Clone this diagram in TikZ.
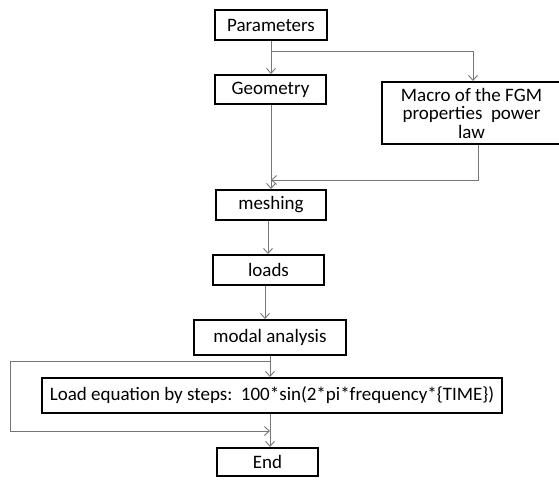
\documentclass[tikz,border=0pt]{standalone}
\usepackage{fontspec}
\setmainfont{Carlito}
\usetikzlibrary{arrows.meta,calc}
\definecolor{conn}{RGB}{118,118,118}
\begin{document}
\begin{tikzpicture}[x=1pt,y=-1pt,
  box/.style={draw=black,line width=2pt,inner sep=0pt,font=\fontsize{19}{18.5}\selectfont,align=center},
  arr/.style={draw=conn,line width=0.9pt,-{Straight Barb[length=5pt,width=9pt,line width=0.9pt]}},
  ln/.style={draw=conn,line width=0.9pt}]
\clip (0,0) rectangle (559,479);
\fill[white] (0,0) rectangle (559,479);
\node[box,minimum width=112pt,minimum height=30pt] (params) at (271,25) {Parameters};
\node[box,minimum width=111pt,minimum height=29pt] (geom) at (270.5,89.5) {Geometry};
\node[box,minimum width=179pt,minimum height=62pt] (macro) at (471.5,113) {Macro of the FGM\\properties\ \ power\\law};
\node[box,minimum width=110pt,minimum height=30pt] (mesh) at (271,205) {meshing};
\node[box,minimum width=111pt,minimum height=30pt] (loads) at (268.5,270) {loads};
\node[box,minimum width=152pt,minimum height=35pt] (modal) at (270,337.5) {modal analysis};
\node[box,minimum width=460pt,minimum height=35pt] (loadeq) at (272,395.5) {Load equation by steps:\ \ 100*sin(2*pi*frequency*\{TIME\})};
\node[box,minimum width=101pt,minimum height=28pt] (end) at (267.5,462) {End};
\coordinate (c1) at (271,0);
\coordinate (c2) at (268,0);
\coordinate (c3) at (265,0);
\coordinate (c4) at (270,0);
\coordinate (br1) at (271,51);
\coordinate (mx) at (473,0);
\coordinate (mo) at (478,0);
\coordinate (j1) at (478,180);
\coordinate (br2) at (270,361);
\coordinate (lp1) at (10,361);
\coordinate (lp2) at (10,431);
\coordinate (lp3) at (270,431);
\draw[arr] (params.south -| c1) -- (geom.north -| c1);
\draw[arr] (br1) -- (br1 -| mx) -- (macro.north -| mx);
\draw[arr] (geom.south -| c1) -- (mesh.north -| c1);
\draw[arr] (macro.south -| mo) -- (j1) -- (j1 -| c1);
\draw[arr] (mesh.south -| c2) -- (loads.north -| c2);
\draw[arr] (loads.south -| c3) -- (modal.north -| c3);
\draw[arr] (modal.south -| c4) -- (loadeq.north -| c4);
\draw[ln] (br2) -- (lp1) -- (lp2);
\draw[arr] (lp2) -- (lp3);
\draw[arr] (loadeq.south -| c4) -- (end.north -| c4);
\end{tikzpicture}
\end{document}
